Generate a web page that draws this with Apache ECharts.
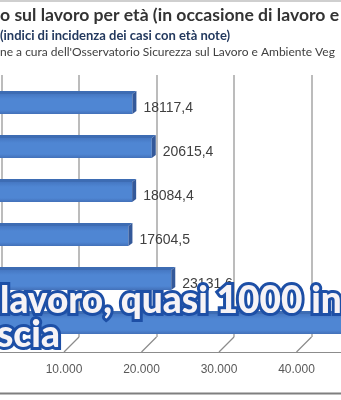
<!DOCTYPE html>
<html>
<head>
<meta charset="utf-8">
<script src="https://cdn.jsdelivr.net/npm/echarts@6/dist/echarts.min.js"></script>
<style>
  html, body { margin: 0; padding: 0; background: #fff; }
  #chart { width: 341px; height: 400px; }
</style>
</head>
<body>
<div id="chart"></div>
<script>
// ================= dati =================
const categories = ['15-24', '25-34', '35-44', '45-54', '55-64', '65+']
const values = [18117.4, 20615.4, 18084.4, 17604.5, 23131.6, 48500]
const xTicks = [0, 10000, 20000, 30000, 40000, 50000]
const tickLabels = ['0', '10.000', '20.000', '30.000', '40.000', '50.000']

// scala comune: 10.000 = 77.5px
const axisWidth = 387.5
const barColor = '#4f86d3'

const chart = echarts.init(document.getElementById('chart'))

// barre "3D": faccia frontale + lato superiore + testata
function renderBar(params, api) {
  const v = api.value(0)
  const c = api.value(1)
  const start = api.coord([0, c])
  const end = api.coord([v, c])
  const h = api.size([0, 1])[1] * 0.46
  const top = start[1] - h / 2
  const dx = 4
  const dy = -3
  return {
    type: 'group',
    children: [
      {
        type: 'polygon',
        shape: { points: [[start[0], top], [start[0] + dx, top + dy], [end[0] + dx, top + dy], [end[0], top]] },
        style: { fill: '#3d6cb3' },
      },
      {
        type: 'rect',
        shape: { x: start[0], y: top, width: end[0] - start[0], height: h },
        style: {
          fill: new echarts.graphic.LinearGradient(0, 0, 0, 1, [
            { offset: 0, color: '#4577c2' },
            { offset: 0.25, color: barColor },
            { offset: 0.8, color: barColor },
            { offset: 1, color: '#4270b8' },
          ]),
        },
      },
      {
        type: 'polygon',
        shape: { points: [[end[0], top], [end[0] + dx, top + dy], [end[0] + dx, top + dy + h], [end[0], top + h]] },
        style: { fill: '#34599a' },
      },
      {
        type: 'text',
        style: {
          text: v.toFixed(1).replace('.', ','),
          x: end[0] + 11,
          y: start[1] + 4,
          verticalAlign: 'middle',
          font: '14px "Liberation Sans"',
          fill: '#404040',
        },
      },
    ],
  }
}

// trattini obliqui del pavimento
function renderFloorTick(params, api) {
  const p = api.coord([api.value(0), 0])
  return {
    type: 'line',
    shape: { x1: p[0], y1: p[1], x2: p[0] + 15, y2: p[1] - 15 },
    style: { stroke: '#8c8c8c', lineWidth: 1.2 },
  }
}

// scritta sovrapposta (bordo blu sotto, riempimento bianco sopra)
function overlayText(text, x, y) {
  const font = '900 37px Lato'
  return [
    { type: 'text', x: x, y: y, z: 100, style: { text: text, font: font, fill: '#1d4fa6', stroke: '#1d4fa6', lineWidth: 6, lineJoin: 'round', verticalAlign: 'top' } },
    { type: 'text', x: x, y: y, z: 101, style: { text: text, font: font, fill: '#f6f3f6', verticalAlign: 'top' } },
  ]
}

function headerText(text, y, font, color) {
  return { type: 'text', x: 0, y: y, style: { text: text, font: font, fill: color, verticalAlign: 'top' } }
}

const option = {
  backgroundColor: '#fff',
  animation: false,
  grid: [
    // parete di fondo
    { left: 1.3, top: 75, width: axisWidth, height: 262, outerBoundsMode: 'none' },
    // bordo anteriore del pavimento
    { left: -13.5, top: 351, width: axisWidth, height: 1, outerBoundsMode: 'none' },
    // barre
    { left: -8, top: 82, width: axisWidth, height: 264, outerBoundsMode: 'none' },
  ],
  xAxis: [
    {
      gridIndex: 0, type: 'value', min: 0, max: 50000, interval: 10000,
      axisLine: { show: false }, axisTick: { show: false }, axisLabel: { show: false },
      splitLine: { show: true, lineStyle: { color: '#a6a6a6', width: 1.5 } },
    },
    {
      gridIndex: 1, type: 'value', min: 0, max: 50000, interval: 10000,
      axisLine: { show: true, lineStyle: { color: '#8c8c8c', width: 1.2 } },
      axisTick: { show: false },
      splitLine: { show: false },
      axisLabel: {
        margin: 12,
        font: '14px "Liberation Sans"',
        color: '#595959',
        formatter: (v) => tickLabels[xTicks.indexOf(v)],
      },
    },
    {
      gridIndex: 2, type: 'value', min: 0, max: 50000, interval: 10000,
      show: false,
    },
  ],
  yAxis: [
    { gridIndex: 0, type: 'value', min: 0, max: 1, show: false },
    { gridIndex: 1, type: 'value', min: 0, max: 1, show: false },
    { gridIndex: 2, type: 'category', inverse: true, data: categories, show: false },
  ],
  series: [
    {
      type: 'custom',
      xAxisIndex: 1,
      yAxisIndex: 1,
      data: xTicks.map((t) => [t]),
      renderItem: renderFloorTick,
      silent: true,
    },
    {
      type: 'custom',
      xAxisIndex: 2,
      yAxisIndex: 2,
      data: values.map((v, i) => [v, i]),
      encode: { x: 0, y: 1 },
      renderItem: renderBar,
      clip: false,
    },
  ],
  graphic: [
    { type: 'line', shape: { x1: 0, y1: 1, x2: 341, y2: 1 }, style: { stroke: '#cfcfcf', lineWidth: 2 } },
    { type: 'line', shape: { x1: 0, y1: 393.5, x2: 341, y2: 393.5 }, style: { stroke: '#7f7f7f', lineWidth: 2 } },
    headerText('o sul lavoro per età (in occasione di lavoro e', 6, 'bold 17.6px Lato', '#333333'),
    headerText('(indici di incidenza dei casi con età note)', 29, 'bold 13px Lato', '#23395e'),
    headerText("ne a cura dell'Osservatorio Sicurezza sul Lavoro e Ambiente Veg", 46, '12px Lato', '#404040'),
    ...overlayText('lavoro, quasi 1000 in Italia', 0, 283),
    ...overlayText('scia', -3, 317),
  ],
}

chart.setOption(option)
</script>
</body>
</html>
